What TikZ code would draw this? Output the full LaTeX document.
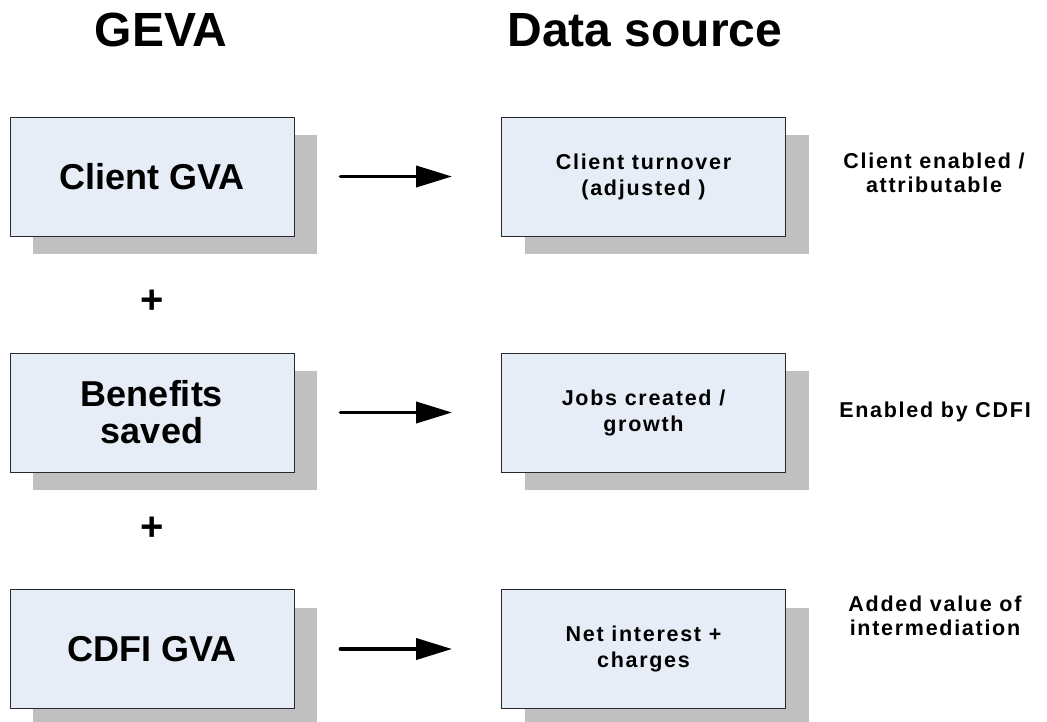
\documentclass[tikz,border=0pt]{standalone}
\usepackage{fontspec}
\setmainfont{Liberation Sans}
\newfontfamily\spacedsans[LetterSpace=8]{Liberation Sans}
\usetikzlibrary{shadows,arrows.meta}

\definecolor{boxfill}{RGB}{231,237,247}
\definecolor{shadowgray}{RGB}{192,192,192}
\definecolor{boxedge}{RGB}{40,40,45}

\tikzset{
  card/.style={draw=boxedge, line width=0.9pt, fill=boxfill,
    minimum width=284pt, minimum height=119pt, inner sep=0pt,
    drop shadow={shadow xshift=23pt, shadow yshift=-18pt,
                 fill=shadowgray, opacity=1}},
  gevacard/.style={card, align=center,
    font=\fontsize{36}{37}\selectfont\bfseries},
  sourcecard/.style={card, align=center,
    font=\spacedsans\fontsize{21.5}{26}\selectfont\bfseries},
  note/.style={align=center, inner sep=0pt,
    font=\spacedsans\fontsize{21.5}{24}\selectfont\bfseries},
  heading/.style={inner sep=0pt, font=\fontsize{48}{50}\selectfont\bfseries},
  plus/.style={inner sep=0pt, font=\fontsize{40}{40}\selectfont\bfseries},
  feed/.style={line width=3.8pt, line cap=round,
    -{Triangle[length=36pt,width=21pt]},
    shorten <=46pt, shorten >=49pt}
}

\begin{document}
\begin{tikzpicture}[x=1pt,y=-1pt]
\useasboundingbox (0,0) rectangle (1047,722);

% column headings
\node[heading] (hgeva) at (161,30) {GEVA};
\node[heading] (hsrc)  at (645,30) {Data source};

% GEVA components
\node[gevacard] (gva1) at (152,176.5) {Client GVA};
\node[gevacard] (gva2) at (152,412.5) {Benefits\\saved};
\node[gevacard] (gva3) at (152,649)   {CDFI GVA};

% plus signs between components
\node[plus] (p1) at (152,302) {+};
\node[plus] (p2) at (152,529) {+};

% data sources
\node[sourcecard] (src1) at (643.5,176.5) {Client turnover\\(adjusted )};
\node[sourcecard] (src2) at (643.5,412.5) {Jobs created /\\growth};
\node[sourcecard] (src3) at (643.5,649)   {Net interest +\\charges};

% arrows from component to source
\draw[feed] (gva1) -- (src1);
\draw[feed] (gva2) -- (src2);
\draw[feed] (gva3) -- (src3);

% notes
\node[note] (n1) at (934,173) {Client enabled /\\attributable};
\node[note] (n2) at (935,412) {Enabled by CDFI};
\node[note] (n3) at (935,616) {Added value of\\intermediation};
\end{tikzpicture}
\end{document}
